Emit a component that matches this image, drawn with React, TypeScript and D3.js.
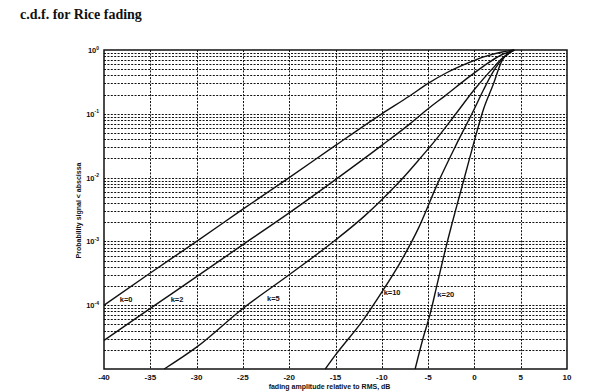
import React from "react";
import * as d3 from "d3";

const title = "c.d.f. for Rice fading";
const xLabel = "fading amplitude relative to RMS, dB";
const yLabel = "Probability signal < abscissa";
const xTicks = [-40, -35, -30, -25, -20, -15, -10, -5, 0, 5, 10];
const yDecades = [0, -1, -2, -3, -4];

// k = 0
const k0DB = [-40, -35, -30, -25, -20, -15, -10, -7, -5, -3, -1, 1, 3, 4.3];
const k0P = [1e-4, 3.2e-4, 1e-3, 3.2e-3, 0.01, 0.032, 0.1, 0.19, 0.3, 0.44, 0.6, 0.78, 0.93, 1.0];
// k = 2
const k2DB = [-40, -35, -30, -25, -20, -15, -10, -7, -5, -3, -1, 1, 3, 4.3];
const k2P = [2.8e-5, 8.9e-5, 2.8e-4, 8.9e-4, 2.8e-3, 9.3e-3, 0.032, 0.069, 0.12, 0.2, 0.34, 0.56, 0.85, 1.0];
// k = 5
const k5DB = [-33.5, -30, -25, -20, -15, -12, -10, -8, -6, -4, -2, 0, 2, 3, 4.3];
const k5P = [1e-5, 2.2e-5, 8.9e-5, 3.0e-4, 1.05e-3, 2.4e-3, 4.5e-3, 8.9e-3, 0.019, 0.042, 0.1, 0.24, 0.52, 0.74, 1.0];
// k = 10
const k10DB = [-16.1, -15, -12, -10, -8, -6, -4, -2, 0, 1, 2, 3, 4.3];
const k10P = [1e-5, 1.66e-5, 5.9e-5, 1.6e-4, 4.7e-4, 1.66e-3, 7.9e-3, 0.032, 0.12, 0.24, 0.45, 0.72, 1.0];
// k = 20
const k20DB = [-6.4, -5.5, -4.8, -4, -3, -2, -1, 0, 1, 2, 3, 4.3];
const k20P = [1e-5, 3.2e-5, 7.1e-5, 2.2e-4, 8.9e-4, 3.2e-3, 0.011, 0.038, 0.12, 0.28, 0.69, 1.0];

const curveLabels = ["k=0", "k=2", "k=5", "k=10", "k=20"];
const labelDB = [-38.3, -32.8, -22.4, -9.8, -4.0];
const labelP = [1.25e-4, 1.25e-4, 1.27e-4, 1.6e-4, 1.5e-4];

const W = 596;
const H = 392;
const margin = { left: 104, right: 29, top: 50, bottom: 23 };

export default function App() {
  const x = d3.scaleLinear().domain([-40, 10]).range([margin.left, W - margin.right]);
  const y = d3.scaleLog().domain([1e-5, 1]).range([H - margin.bottom, margin.top]);

  const series = [
    { db: k0DB, p: k0P },
    { db: k2DB, p: k2P },
    { db: k5DB, p: k5P },
    { db: k10DB, p: k10P },
    { db: k20DB, p: k20P },
  ];

  const line = d3
    .line<[number, number]>()
    .x((d) => x(d[0]))
    .y((d) => y(d[1]))
    .curve(d3.curveMonotoneX);

  const hGrid: number[] = [];
  for (let e = -5; e < 0; e++) {
    for (let m = 1; m <= 9; m++) {
      const v = m * Math.pow(10, e);
      if (e === -5 && m === 1) continue;
      hGrid.push(v);
    }
  }
  const vGrid = xTicks.slice(1, -1);

  const [x0, x1] = x.range();
  const [y0, y1] = [y(1), y(1e-5)];
  const snap = (v: number) => Math.round(v) + 0.5;

  const gridStyle = { stroke: "#111", strokeWidth: 1, strokeDasharray: "2,1.4" };
  const sans = "'Liberation Sans', Arial, sans-serif";

  return (
    <svg
      width={W}
      height={H}
      viewBox={`0 0 ${W} ${H}`}
      style={{ position: "absolute", left: 0, top: 0, background: "#fff" }}
    >
      <rect x={0} y={0} width={W} height={H} fill="#fff" />
      <text
        x={20}
        y={19}
        fontFamily="'Liberation Serif', 'Times New Roman', serif"
        fontWeight="bold"
        fontSize={14}
        fill="#111"
      >
        {title}
      </text>

      {hGrid.map((v, i) => (
        <line key={"h" + i} x1={x0} x2={x1} y1={snap(y(v))} y2={snap(y(v))} {...gridStyle} />
      ))}
      {vGrid.map((v, i) => (
        <line key={"v" + i} x1={snap(x(v))} x2={snap(x(v))} y1={y0} y2={y1} {...gridStyle} />
      ))}

      {series.map((s, i) => (
        <path
          key={"s" + i}
          d={line(s.db.map((d, j) => [d, s.p[j]] as [number, number])) || ""}
          fill="none"
          stroke="#111"
          strokeWidth={1.4}
        />
      ))}

      <rect x={x0} y={y0} width={x1 - x0} height={y1 - y0} fill="none" stroke="#111" strokeWidth={1.5} />

      {curveLabels.map((t, i) => (
        <text
          key={"l" + i}
          x={x(labelDB[i])}
          y={y(labelP[i])}
          fontFamily={sans}
          fontSize={7.5}
          fontWeight="bold"
          fill="#111"
          dy="0.35em"
        >
          {t}
        </text>
      ))}

      {xTicks.map((t, i) => (
        <text
          key={"xt" + i}
          x={x(t)}
          y={y1 + 11}
          textAnchor="middle"
          fontFamily={sans}
          fontSize={8}
          fontWeight="bold"
          fill="#111"
        >
          {t}
        </text>
      ))}

      {yDecades.map((e, i) => (
        <text
          key={"yt" + i}
          x={x0 - 5}
          y={y(Math.pow(10, e)) + 3}
          textAnchor="end"
          fontFamily={sans}
          fontSize={7.5}
          fontWeight="bold"
          fill="#111"
        >
          10
          <tspan fontSize={5} dy={-3.5}>
            {e === 0 ? "0" : String(e)}
          </tspan>
        </text>
      ))}

      <text
        x={(x0 + x1) / 2 - 6}
        y={y1 + 20}
        textAnchor="middle"
        fontFamily={sans}
        fontSize={7}
        fontWeight="bold"
        fill="#111"
      >
        {xLabel}
      </text>
      <text
        transform={`translate(${81},${(y0 + y1) / 2 + 1}) rotate(-90)`}
        textAnchor="middle"
        fontFamily={sans}
        fontSize={7}
        fontWeight="bold"
        fill="#111"
      >
        {yLabel}
      </text>
    </svg>
  );
}
